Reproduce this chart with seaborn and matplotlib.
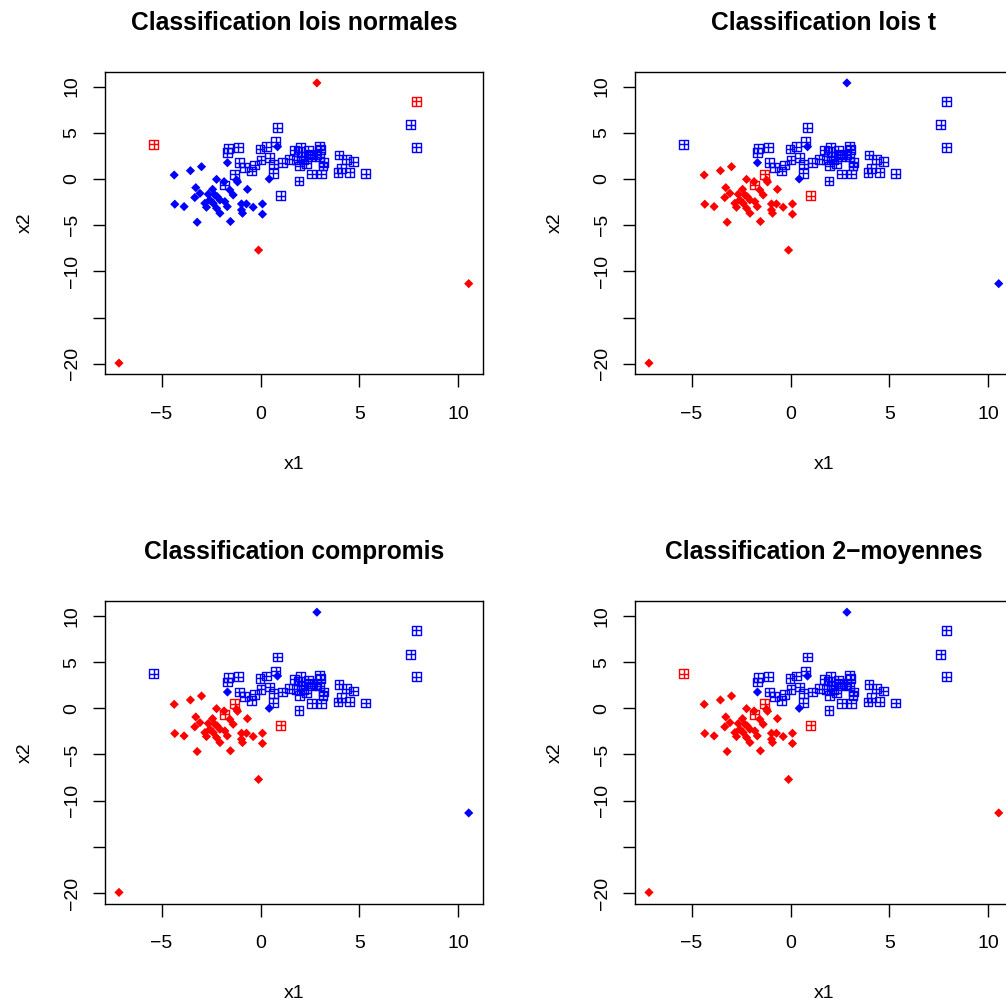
import numpy as np
import pandas as pd
import matplotlib
matplotlib.use("Agg")
import matplotlib.pyplot as plt
from matplotlib.path import Path
from matplotlib.markers import MarkerStyle
import seaborn as sns

# ---- Groupe 1 (losanges) ----
g1_x1 = [-4.36, -3.54, -2.98, -1.67, 0.86, 0.44, -2.22, -1.84, -1.21, -1.16,
         -3.27, -2.42, -0.66, -3.32, -3.06, -2.64, -2.19, -2.56, -2.81, -2.73,
         -2.22, -2.05, -1.80, -1.68, -1.38, -1.55, -4.33, -3.86, -3.20, -1.52,
         -0.96, -0.71, -0.37, 0.10, 0.10, -0.91, -0.96, -2.39, -2.05, -2.31,
         -7.15, -0.10, 2.85, 10.52]
g1_x2 = [0.43, 0.90, 1.33, 1.76, 3.49, 0.00, -0.04, -0.29, -0.11, -0.32,
         -0.94, -1.12, -1.12, -2.01, -1.55, -1.65, -1.91, -2.27, -2.63, -3.06,
         -3.17, -3.71, -2.45, -2.99, -1.73, -1.19, -2.73, -2.99, -4.68, -4.60,
         -2.70, -2.70, -3.06, -2.70, -3.81, -3.71, -3.35, -2.63, -2.27, -1.73,
         -19.93, -7.70, 10.40, -11.33]

# ---- Groupe 2 (carrés) ----
g2_x1 = [0.84, 0.77, 0.30, -0.03, -1.13, -1.63, -1.67, -1.08, -0.79, -0.45,
         -0.29, 0.02, 0.47, 0.67, 0.64, 1.11, 1.45, 1.73, 2.04, 2.41,
         3.00, 3.05, 2.07, 1.99, 2.32, 2.58, 2.83, 2.58, 3.08, 3.16,
         3.20, 1.94, 1.03, -1.30, -1.80, 3.97, 4.34, 4.68, 3.92, 4.09,
         4.51, 5.32, 1.90, 2.49, 3.00, 1.82, 2.19,
         -5.39, 7.88, 7.58, 7.88]
g2_x2 = [5.54, 4.03, 3.49, 3.24, 3.42, 3.31, 2.84, 1.76, 1.26, 0.86,
         1.51, 2.05, 2.30, 1.62, 0.61, 1.76, 2.12, 3.13, 3.42, 3.06,
         3.56, 3.20, 2.41, 1.40, 1.69, 2.41, 2.59, 0.54, 0.54, 1.40,
         1.76, -0.22, -1.83, 0.50, -0.65, 2.59, 2.12, 1.87, 0.68, 1.15,
         0.72, 0.58, 2.95, 2.70, 2.41, 2.05, 2.05,
         3.74, 8.42, 5.86, 3.42]

# ---- Classes attribuées par chaque méthode (1 = rouge, 2 = bleu) ----
cl_normales_g1 = [2, 2, 2, 2, 2, 2, 2, 2, 2, 2, 2, 2, 2, 2, 2, 2, 2, 2, 2, 2,
                  2, 2, 2, 2, 2, 2, 2, 2, 2, 2, 2, 2, 2, 2, 2, 2, 2, 2, 2, 2,
                  1, 1, 1, 1]
cl_normales_g2 = [2, 2, 2, 2, 2, 2, 2, 2, 2, 2, 2, 2, 2, 2, 2, 2, 2, 2, 2, 2,
                  2, 2, 2, 2, 2, 2, 2, 2, 2, 2, 2, 2, 2, 2, 2, 2, 2, 2, 2, 2,
                  2, 2, 2, 2, 2, 2, 2, 1, 1, 2, 2]
cl_t_g1 = [1, 1, 1, 2, 2, 2, 1, 1, 1, 1, 1, 1, 1, 1, 1, 1, 1, 1, 1, 1,
           1, 1, 1, 1, 1, 1, 1, 1, 1, 1, 1, 1, 1, 1, 1, 1, 1, 1, 1, 1,
           1, 1, 2, 2]
cl_t_g2 = [2, 2, 2, 2, 2, 2, 2, 2, 2, 2, 2, 2, 2, 2, 2, 2, 2, 2, 2, 2,
           2, 2, 2, 2, 2, 2, 2, 2, 2, 2, 2, 2, 1, 1, 1, 2, 2, 2, 2, 2,
           2, 2, 2, 2, 2, 2, 2, 2, 2, 2, 2]
cl_compromis_g1 = [1, 1, 1, 2, 2, 2, 1, 1, 1, 1, 1, 1, 1, 1, 1, 1, 1, 1, 1, 1,
                   1, 1, 1, 1, 1, 1, 1, 1, 1, 1, 1, 1, 1, 1, 1, 1, 1, 1, 1, 1,
                   1, 1, 2, 2]
cl_compromis_g2 = [2, 2, 2, 2, 2, 2, 2, 2, 2, 2, 2, 2, 2, 2, 2, 2, 2, 2, 2, 2,
                   2, 2, 2, 2, 2, 2, 2, 2, 2, 2, 2, 2, 1, 1, 1, 2, 2, 2, 2, 2,
                   2, 2, 2, 2, 2, 2, 2, 2, 2, 2, 2]
cl_kmeans_g1 = [1, 1, 1, 2, 2, 2, 1, 1, 1, 1, 1, 1, 1, 1, 1, 1, 1, 1, 1, 1,
                1, 1, 1, 1, 1, 1, 1, 1, 1, 1, 1, 1, 1, 1, 1, 1, 1, 1, 1, 1,
                1, 1, 2, 1]
cl_kmeans_g2 = [2, 2, 2, 2, 2, 2, 2, 2, 2, 2, 2, 2, 2, 2, 2, 2, 2, 2, 2, 2,
                2, 2, 2, 2, 2, 2, 2, 2, 2, 2, 2, 2, 1, 1, 1, 2, 2, 2, 2, 2,
                2, 2, 2, 2, 2, 2, 2, 1, 2, 2, 2]

titles = ["Classification lois normales", "Classification lois t",
          "Classification compromis", "Classification 2\u2212moyennes"]
labels_g1 = [cl_normales_g1, cl_t_g1, cl_compromis_g1, cl_kmeans_g1]
labels_g2 = [cl_normales_g2, cl_t_g2, cl_compromis_g2, cl_kmeans_g2]

palette = {1: "#FF0000", 2: "#0000FF"}
xticks = [-5, 0, 5, 10]
yticks = [-20, -15, -10, -5, 0, 5, 10]
yticklabels = ["\u221220", "", "\u221210", "\u22125", "0", "5", "10"]

sns.set_style("ticks")
plt.rcParams["font.family"] = ["Liberation Sans", "DejaVu Sans"]
plt.rcParams["axes.unicode_minus"] = True
plt.rcParams["text.color"] = "black"
plt.rcParams["axes.labelcolor"] = "black"
plt.rcParams["xtick.color"] = "black"
plt.rcParams["ytick.color"] = "black"
plt.rcParams["axes.edgecolor"] = "black"

# square with a plus inside (open marker)
sq_plus = Path(
    [(-1, -1), (1, -1), (1, 1), (-1, 1), (-1, -1),
     (0, -1), (0, 1), (-1, 0), (1, 0)],
    [Path.MOVETO, Path.LINETO, Path.LINETO, Path.LINETO, Path.CLOSEPOLY,
     Path.MOVETO, Path.LINETO, Path.MOVETO, Path.LINETO])

W = 1006.0
fig = plt.figure(figsize=(W / 100, W / 100), dpi=100)

ax_w, ax_h = 377.7, 302.6
lefts = [105.0, 635.0]
tops = [71.7, 601.0]

all_x = np.array(g1_x1 + g2_x1)
all_y = np.array(g1_x2 + g2_x2)
rx = all_x.max() - all_x.min()
ry = all_y.max() - all_y.min()
xlim = (all_x.min() - 0.04 * rx, all_x.max() + 0.04 * rx)
ylim = (all_y.min() - 0.04 * ry, all_y.max() + 0.04 * ry)

for k in range(4):
    r, c = divmod(k, 2)
    left = lefts[c]
    top = tops[r]
    ax = fig.add_axes([left / W, (W - top - ax_h) / W, ax_w / W, ax_h / W])

    d1 = pd.DataFrame({"x1": g1_x1, "x2": g1_x2, "classe": labels_g1[k]})
    d2 = pd.DataFrame({"x1": g2_x1, "x2": g2_x2, "classe": labels_g2[k]})

    sns.scatterplot(data=d1, x="x1", y="x2", hue="classe", palette=palette,
                    marker="D", s=22, linewidth=0, legend=False, ax=ax)
    sns.scatterplot(data=d2, x="x1", y="x2", hue="classe", palette=palette,
                    marker=MarkerStyle(sq_plus), s=40, linewidth=1.0,
                    legend=False, ax=ax)
    pts = ax.collections[-1]
    cols = pts.get_facecolors()
    pts.set_edgecolors(cols)
    pts.set_facecolors("none")

    ax.set_xlim(xlim)
    ax.set_ylim(ylim)
    ax.set_xticks(xticks)
    ax.set_xticklabels([f"{t}".replace("-", "\u2212") for t in xticks])
    ax.set_yticks(yticks)
    ax.set_yticklabels(yticklabels)
    ax.tick_params(axis="both", direction="out", length=9, width=1.0,
                   labelsize=14, color="black", labelcolor="black")
    ax.tick_params(axis="x", pad=13.5)
    ax.tick_params(axis="y", pad=8.5)
    for lbl in ax.get_yticklabels():
        lbl.set_rotation(90)
        lbl.set_va("center")
    for sp in ax.spines.values():
        sp.set_visible(True)
        sp.set_color("black")
        sp.set_linewidth(1.0)
    ax.set_xlabel("")
    ax.set_ylabel("")

    ax.annotate(titles[k], xy=(0.5, 1.0), xycoords="axes fraction",
                xytext=(0, 41.7), textcoords="offset pixels",
                ha="center", va="baseline", fontsize=17.7, fontweight="bold",
                color="black")
    ax.annotate("x1", xy=(0.5, 0.0), xycoords="axes fraction",
                xytext=(0, -94.7), textcoords="offset pixels",
                ha="center", va="baseline", fontsize=14, color="black")
    ax.annotate("x2", xy=(0.0, 0.5), xycoords="axes fraction",
                xytext=(-75, 0), textcoords="offset pixels",
                ha="center", va="baseline", fontsize=14, color="black",
                rotation=90, rotation_mode="anchor")

fig.savefig("out.png", dpi=100, facecolor="white")
